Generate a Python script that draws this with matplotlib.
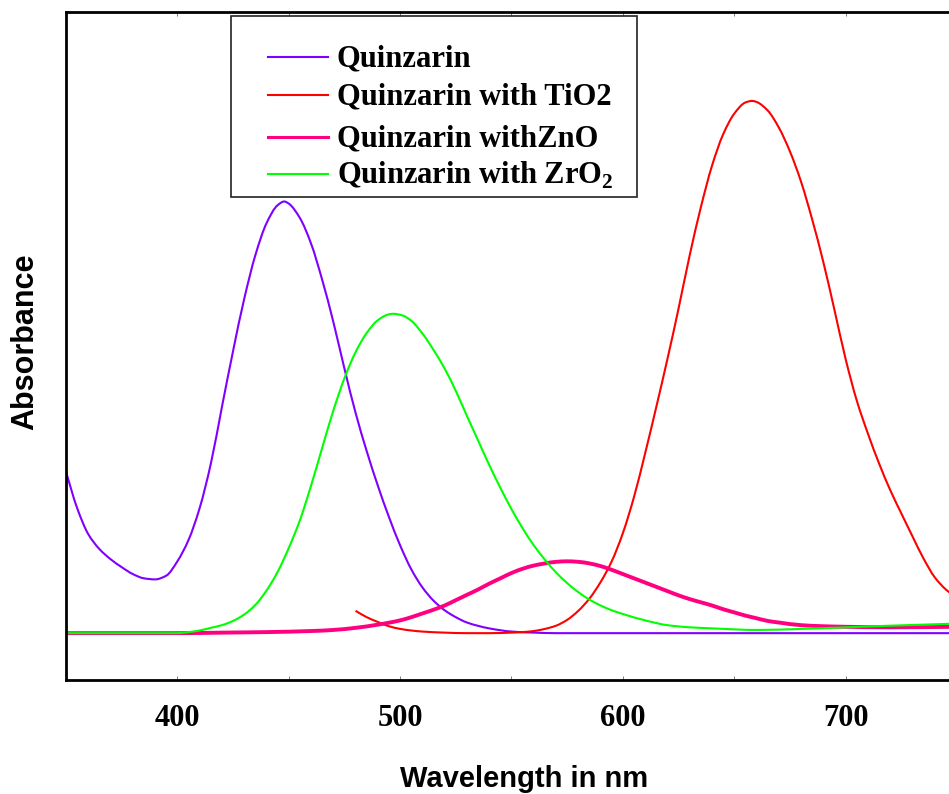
import numpy as np
import matplotlib.pyplot as plt
import matplotlib.patches as patches
from matplotlib.lines import Line2D
from matplotlib.path import Path
from matplotlib.ticker import MultipleLocator, NullLocator

# Serif bold for ticks / legend, bold sans for axis titles
plt.rcParams["mathtext.fontset"] = "custom"
plt.rcParams["mathtext.rm"] = "Liberation Serif:bold"
plt.rcParams["mathtext.bf"] = "Liberation Serif:bold"

# Absorption spectra, absorbance scaled to the TiO2 band maximum
quinzarin_nm = [350, 355, 360, 365, 370, 375, 380, 385, 390, 395, 400, 405, 410, 415, 420, 425, 430, 435, 440, 445,
                448, 450, 455, 460, 465, 470, 475, 480, 485, 490, 495, 500, 505, 510, 515, 520, 525, 530,
                540, 550, 560, 570, 600, 650, 700, 750]
quinzarin_abs = [0.303, 0.235, 0.186, 0.158, 0.139, 0.124, 0.111, 0.103, 0.101, 0.108, 0.135, 0.175, 0.235, 0.318,
                 0.425, 0.530, 0.628, 0.710, 0.770, 0.804,
                 0.811, 0.807, 0.780, 0.732, 0.664, 0.585, 0.497, 0.414, 0.342, 0.277, 0.218, 0.165, 0.120, 0.086,
                 0.061, 0.043, 0.030, 0.020,
                 0.009, 0.003, 0.001, 0.0, 0.0, 0.0, 0.0, 0.0]

tio2_nm = [480, 485, 490, 495, 500, 505, 510, 520, 530, 540, 550,
           555, 560, 565, 570, 575, 580, 585, 590, 595, 600, 605, 610, 615, 620, 625, 630, 635, 640, 645, 650, 655,
           658, 660, 665, 670, 675, 680, 685, 690, 695, 700, 705, 710, 715, 720, 725, 730, 735, 740, 745, 750]
tio2_abs = [0.042, 0.030, 0.021, 0.013, 0.008, 0.005, 0.003, 0.001, 0.0, 0.0, 0.001,
            0.002, 0.004, 0.008, 0.014, 0.025, 0.042, 0.065, 0.096, 0.135, 0.188, 0.256, 0.338, 0.425, 0.515, 0.610,
            0.710, 0.800, 0.878, 0.937, 0.976, 0.997,
            1.0, 0.998, 0.982, 0.950, 0.905, 0.848, 0.777, 0.697, 0.607, 0.515, 0.437, 0.375, 0.319, 0.269, 0.225,
            0.182, 0.140, 0.105, 0.082, 0.066]

zno_nm = [350, 400, 420, 440, 460, 470, 480, 490,
          500, 505, 510, 515, 520, 525, 530, 535, 540, 545, 550, 555, 560, 565, 570, 575, 580, 585, 590, 595,
          600, 605, 610, 615, 620, 625, 630, 635, 640, 645, 650, 655, 660, 665, 670,
          680, 690, 700, 720, 750]
zno_abs = [0.0, 0.0, 0.001, 0.002, 0.004, 0.006, 0.010, 0.016,
           0.024, 0.030, 0.037, 0.044, 0.052, 0.062, 0.072, 0.082, 0.093, 0.103, 0.113, 0.121, 0.127, 0.131, 0.134,
           0.135, 0.134, 0.131, 0.126, 0.119,
           0.111, 0.103, 0.095, 0.087, 0.079, 0.071, 0.064, 0.058, 0.052, 0.045, 0.039, 0.033, 0.028, 0.023, 0.020,
           0.015, 0.013, 0.012, 0.011, 0.012]

zro2_nm = [350, 400, 405, 410, 415, 420, 425, 430, 435, 440, 445, 450, 455, 460, 465, 470, 475, 480, 485, 490, 495,
           497, 501, 505, 510, 515, 520, 525, 530, 535, 540, 545, 550, 555, 560, 565, 570, 575, 580, 585, 590, 595,
           600, 610, 620, 630, 640, 660, 680, 700, 720, 750]
zro2_abs = [0.0, 0.0, 0.002, 0.005, 0.010, 0.015, 0.023, 0.035, 0.053, 0.080, 0.115, 0.160, 0.212, 0.277, 0.348,
            0.418, 0.479, 0.528, 0.564, 0.588, 0.599,
            0.600, 0.597, 0.587, 0.563, 0.532, 0.497, 0.455, 0.408, 0.362, 0.316, 0.273, 0.233, 0.197, 0.165, 0.138,
            0.114, 0.094, 0.077, 0.063, 0.052, 0.043,
            0.036, 0.024, 0.015, 0.011, 0.009, 0.006, 0.008, 0.011, 0.014, 0.018]

labels = ["Quinzarin", "Quinzarin with TiO2", "Quinzarin withZnO", r"Quinzarin with ZrO$_\mathbf{2}$"]
colors = ["#8000ff", "#ff0000", "#ff0080", "#00ff00"]
widths = [1.5, 1.5, 2.8, 1.5]


# Smooth (monotone cubic) bezier path through the measured points
def spectrum_path(x, y):
    x = np.asarray(x, float)
    y = np.asarray(y, float)
    h = np.diff(x)
    d = np.diff(y) / h
    m = np.zeros_like(y)
    m[0], m[-1] = d[0], d[-1]
    for i in range(1, len(x) - 1):
        if d[i - 1] * d[i] > 0:
            w1 = 2 * h[i] + h[i - 1]
            w2 = h[i] + 2 * h[i - 1]
            m[i] = (w1 + w2) / (w1 / d[i - 1] + w2 / d[i])
    verts = [(x[0], y[0])]
    codes = [Path.MOVETO]
    for i in range(len(h)):
        verts += [(x[i] + h[i] / 3, y[i] + m[i] * h[i] / 3),
                  (x[i + 1] - h[i] / 3, y[i + 1] - m[i + 1] * h[i] / 3),
                  (x[i + 1], y[i + 1])]
        codes += [Path.CURVE4] * 3
    return Path(verts, codes)


W, H = 949, 794
fig = plt.figure(figsize=(W / 100, H / 100), dpi=100)
fig.set_facecolor("white")

# Axes runs a little past the right edge of the canvas
ax = fig.add_axes([66 / W, 1 - 680 / H, (957 - 66) / W, (680 - 12) / H])

series = [(quinzarin_nm, quinzarin_abs), (tio2_nm, tio2_abs), (zno_nm, zno_abs), (zro2_nm, zro2_abs)]
for (nm, ab), c, lw in zip(series, colors, widths):
    ax.add_patch(patches.PathPatch(spectrum_path(nm, ab), fill=False, edgecolor=c, lw=lw, capstyle="butt"))

ax.set_xlim(350, 750)
ax.set_ylim(-0.088, 1.167)

for side in ["left", "bottom", "top", "right"]:
    ax.spines[side].set_linewidth(2.0)
    ax.spines[side].set_color("black")

ax.xaxis.set_major_locator(MultipleLocator(100))
ax.xaxis.set_minor_locator(MultipleLocator(50))
ax.yaxis.set_major_locator(NullLocator())
ax.tick_params(axis="x", which="both", direction="in", top=True, length=3, width=0.6, color="#666666", pad=17)
for lbl in ax.get_xticklabels():
    lbl.set_fontfamily("Liberation Serif")
    lbl.set_fontweight("bold")
    lbl.set_fontsize(22)

ax.set_xlabel("Wavelength in nm", fontfamily="Liberation Sans", fontweight="bold", fontsize=21, va="baseline")
ax.xaxis.set_label_coords((524 - 66) / 891, (680 - 787) / 668)
ax.set_ylabel("Absorbance", fontfamily="Liberation Sans", fontweight="bold", fontsize=22, va="center")
ax.yaxis.set_label_coords((25 - 66) / 891, (680 - 342) / 668)

# Legend box drawn by hand
box = patches.Rectangle((231 / W, 1 - 197 / H), 406 / W, 181 / H, transform=fig.transFigure,
                        facecolor="white", edgecolor="#222222", lw=1.2, zorder=5)
fig.add_artist(box)
rows = [57, 94.5, 137, 174]
for y, lbl, c, lw in zip(rows, labels, colors, widths):
    fig.add_artist(Line2D([268 / W, 328 / W], [1 - y / H, 1 - y / H], transform=fig.transFigure,
                          color=c, lw=min(lw, 2.2), zorder=6))
    fig.text(337 / W, 1 - (y + 9.5) / H, lbl, fontfamily="Liberation Serif", fontweight="bold",
             fontsize=22, va="baseline", ha="left", zorder=6)

fig.savefig("out.png", dpi=100)
